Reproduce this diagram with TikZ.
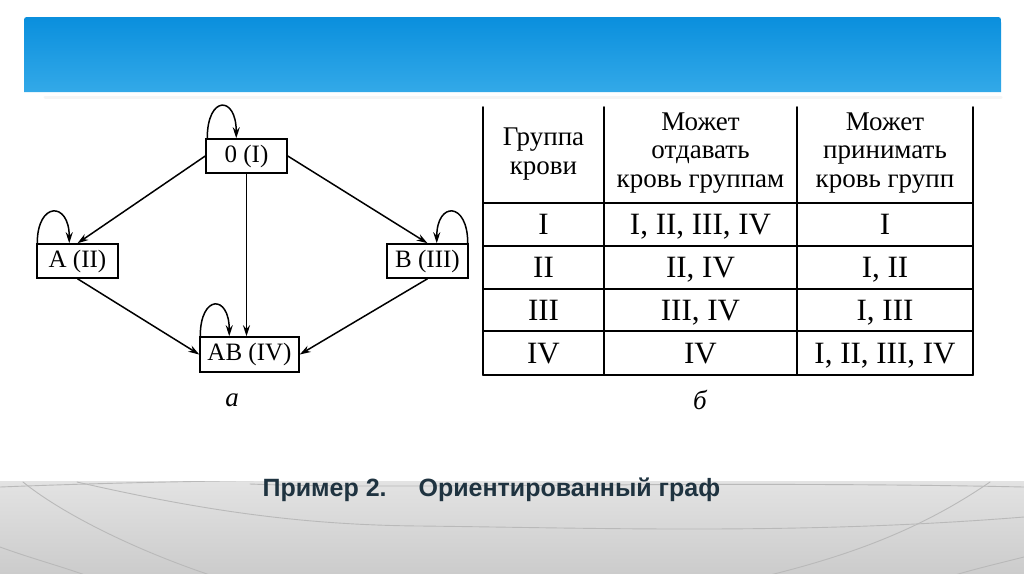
\documentclass[tikz,border=0pt]{standalone}
\usepackage{fontspec}
\setmainfont{Liberation Serif}
\newfontfamily\titlefont{Liberation Sans}
\usetikzlibrary{arrows.meta,positioning}

\definecolor{bannertop}{HTML}{0A8FDD}
\definecolor{bannerbot}{HTML}{33A9E8}
\definecolor{titleink}{HTML}{1F3340}

\begin{document}
\begin{tikzpicture}[
    x=1pt, y=-1pt, >={Stealth[length=11pt,width=7pt]}, line cap=round,
    vbox/.style   ={draw, line width=1.5pt, minimum width=81pt, minimum height=34pt, inner sep=1pt, font=\fontsize{25}{25}\selectfont},
    arc/.style    ={->, line width=1.5pt},
    cell/.style   ={font=\fontsize{31}{31}\selectfont, inner sep=0pt, anchor=base},
    head/.style   ={font=\fontsize{27}{28.5}\selectfont, align=center, inner sep=0pt},
    rule/.style   ={line width=1.6pt},
    sub/.style    ={font=\fontsize{27}{27}\selectfont\itshape},
    swoosh/.style ={gray!55, line width=0.9pt}
]
\useasboundingbox (0,0) rectangle (1024,574);
\fill[white] (0,0) rectangle (1024,574);

% banner
\shade[top color=bannertop, bottom color=bannerbot]
  (24,92) -- (24,23) .. controls (24,17) .. (30,17) -- (995,17)
  .. controls (1001,17) .. (1001,23) -- (1001,92) -- cycle;
\draw[gray!8, line width=3pt] (45,97) -- (1001,97);

% bottom band
\begin{scope}
\clip (0,481) rectangle (1024,573);
\shade[top color=gray!22, bottom color=gray!40] (0,481) rectangle (1024,573);
\draw[swoosh] (23,482) .. controls (60,512) and (130,548) .. (210,575);
\draw[swoosh] (77,482) .. controls (200,510) and (300,525) .. (420,526)
  .. controls (600,528) and (800,535) .. (1024,517);
\draw[swoosh] (0,547) .. controls (30,558) and (60,566) .. (85,575);
\draw[swoosh] (990,482) .. controls (920,530) and (850,555) .. (770,575);
\draw[swoosh] (1024,557) .. controls (1000,563) and (975,569) .. (955,575);
\draw[swoosh] (250,484) .. controls (400,490) and (700,480) .. (1024,487);
\draw[swoosh] (0,487) .. controls (100,483) and (200,481) .. (300,480);
\end{scope}
\node[font=\titlefont\bfseries\fontsize{25}{25}\selectfont, text=titleink, anchor=west] (title) at (259,490)
  {Пример 2.\hspace{32pt}Ориентированный граф};

% (a) graph
\node[vbox] (n0) at (246.5,156) {0 (I)};
\node[vbox] (nA) at (77.5,261) {A (II)};
\node[vbox] (nB) at (427.5,261) {B (III)};
\node[vbox, minimum width=99pt, minimum height=35pt] (nAB) at (249.5,354.5) {AB (IV)};

\draw[arc] (n0.west) -- (nA.north);
\draw[arc] (n0.east) -- (nB.north);
\draw[arc] (n0.south) -- (n0.south |- nAB.north);
\draw[arc] (nA.south) -- (nAB.west);
\draw[arc] (nB.south) -- (nAB.east);

% loops
\draw[arc] ([xshift=2pt]n0.north west) .. controls +(0,-43) and +(0,-43) .. ([xshift=31pt]n0.north west);
\draw[arc] ([xshift=1pt]nA.north west) .. controls +(0,-42) and +(0,-42) .. ([xshift=33pt]nA.north west);
\draw[arc] ([xshift=-1pt]nB.north east) .. controls +(0,-42) and +(0,-42) .. ([xshift=-32pt]nB.north east);
\draw[arc] ([xshift=1pt]nAB.north west) .. controls +(0,-42) and +(0,-42) .. ([xshift=30pt]nAB.north west);

\node[sub] (capa) at (232,400) {a};

% (b) table
\draw[rule] (483,107) -- (483,375) (604,107) -- (604,375)
  (797,107) -- (797,375) (973,107) -- (973,375);
\foreach \y in {203,246,289,331,375}
  \draw[rule] (483,\y) -- (973,\y);

\node[head] (h1) at (543.5,154) {Группа\\крови};
\node[head] (h2) at (700.5,153) {Может\\отдавать\\кровь группам};
\node[head] (h3) at (885,153) {Может\\принимать\\кровь групп};

\node[cell] (r1a) at (543.5,234.5) {I};
\node[cell] (r1b) at (700.5,234.5) {I, II, III, IV};
\node[cell] (r1c) at (885,234.5) {I};
\node[cell] (r2a) at (543.5,277.5) {II};
\node[cell] (r2b) at (700.5,277.5) {II, IV};
\node[cell] (r2c) at (885,277.5) {I, II};
\node[cell] (r3a) at (543.5,320) {III};
\node[cell] (r3b) at (700.5,320) {III, IV};
\node[cell] (r3c) at (885,320) {I, III};
\node[cell] (r4a) at (543.5,363) {IV};
\node[cell] (r4b) at (700.5,363) {IV};
\node[cell] (r4c) at (885,363) {I, II, III, IV};

\node[sub] (capb) at (700,400) {б};
\end{tikzpicture}
\end{document}
